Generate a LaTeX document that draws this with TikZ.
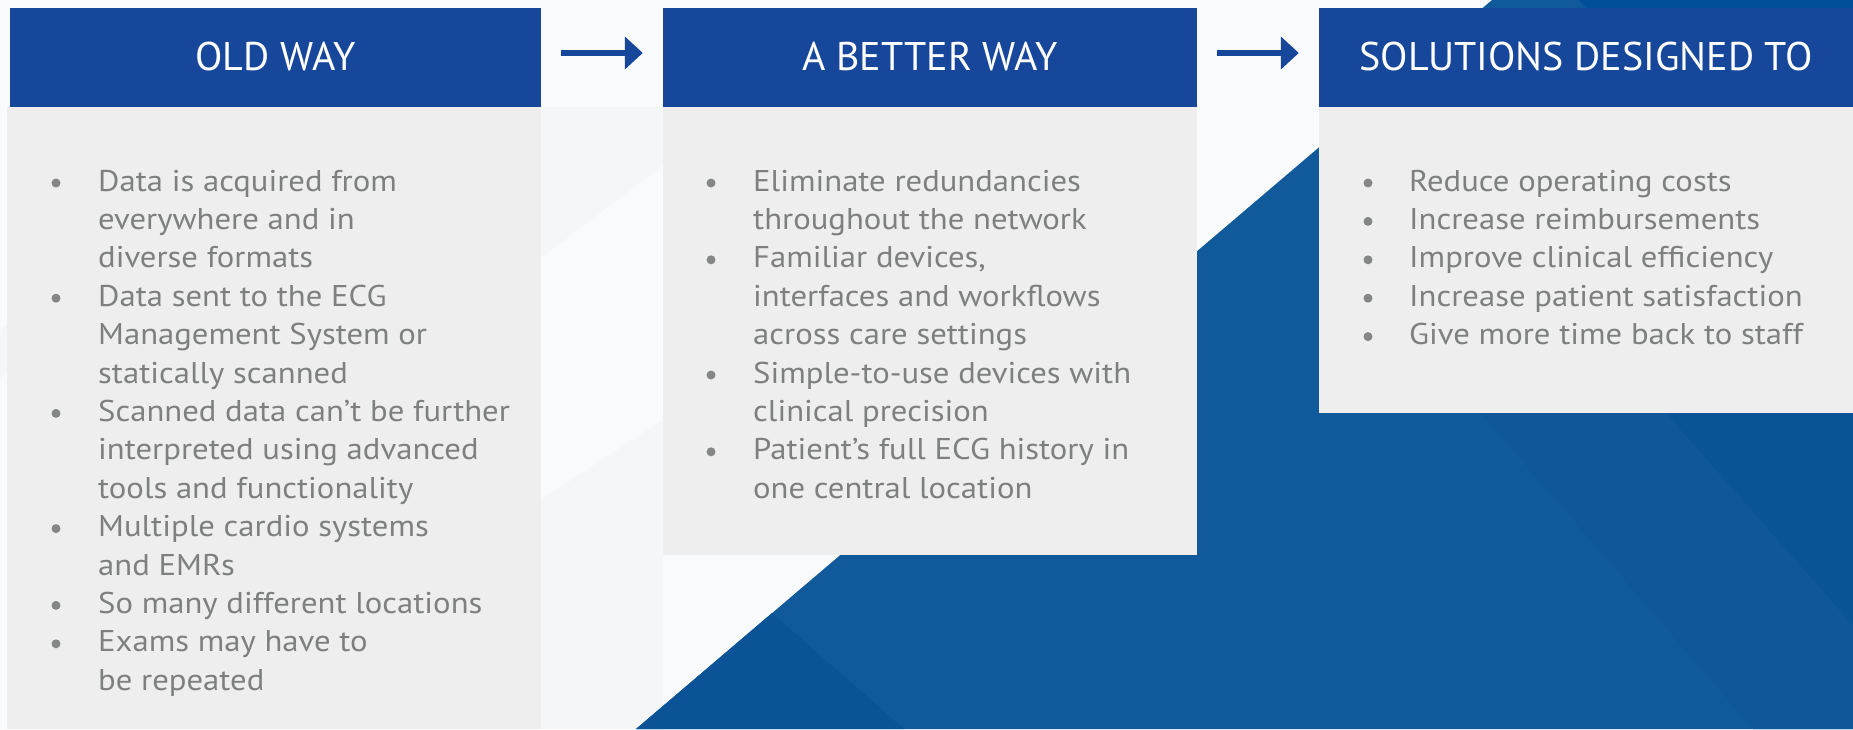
\documentclass[tikz,border=0pt]{standalone}
\usepackage{fontspec}
\setmainfont{PT Sans}
\newfontfamily\hdrfont{PT Sans}
\newfontfamily\bodyfont[FakeStretch=1.09]{PT Sans}
\usetikzlibrary{arrows.meta}
\definecolor{hdrblue}{HTML}{17479A}
\definecolor{bodygray}{HTML}{EEEEEE}
\definecolor{txtgray}{HTML}{7E8080}
\definecolor{dotgray}{HTML}{858787}
\definecolor{bgwhite}{HTML}{F9FAFC}
\definecolor{bglight}{HTML}{F4F6F8}
\definecolor{bgblue}{HTML}{10599B}
\definecolor{bgbluemid}{HTML}{0F5798}
\definecolor{bgbluedark}{HTML}{0A5396}
\definecolor{bgbluedeep}{HTML}{004F98}
\begin{document}
\begin{tikzpicture}[x=1pt,y=-1pt,
  hdrbox/.style={fill=hdrblue, draw=none, inner sep=0pt},
  bodybox/.style={fill=bodygray, draw=none, inner sep=0pt},
  hdrtxt/.style={anchor=base, inner sep=0pt, text=white, font=\hdrfont\fontsize{40}{40}\selectfont},
  txt/.style={anchor=base west, inner sep=0pt, text=txtgray, font=\bodyfont\fontsize{30}{38}\selectfont},
  dot/.style={circle, fill=dotgray, draw=none, inner sep=0pt, minimum size=9pt},
  arr/.style={draw=hdrblue, line width=6pt, -{Triangle[length=18pt,width=32pt]}, shorten <=20pt, shorten >=20pt}]
% canvas
\fill[bgwhite] (0,0) rectangle (1853,729);
\useasboundingbox (0,0) rectangle (1853,729);
% faint background facets
\fill[bglight] (541,107) -- (663,107) -- (663,165) -- (541,258) -- cycle;
\fill[bglight] (541,500) -- (663,420) -- (663,729) -- (541,729) -- cycle;
\fill[bglight] (0,330) -- (7,325) -- (7,372) -- (0,378) -- cycle;
% blue area
\fill[bgblue] (636,729) -- (1492,0) -- (1853,0) -- (1853,729) -- cycle;
\fill[bgbluedark] (636,729) -- (772,613) -- (904,729) -- cycle;
\fill[bgbluemid] (1481,413) -- (1666,413) -- (1853,625) -- (1853,729) -- (1753,729) -- cycle;
\fill[bgbluedark] (1396,107) -- (1853,107) -- (1853,625) -- cycle;
\fill[bgbluedeep] (1579,0) -- (1853,0) -- (1853,8) -- (1586,8) -- cycle;
% boxes
\node[bodybox, minimum width=534pt, minimum height=622pt] (b1) at (274,418) {};
\node[bodybox, minimum width=534pt, minimum height=448pt] (b2) at (930,331) {};
\node[bodybox, minimum width=534pt, minimum height=306pt] (b3) at (1586,260) {};
\node[hdrbox, minimum width=531pt, minimum height=99pt] (h1) at (275.5,57.5) {};
\node[hdrbox, minimum width=534pt, minimum height=99pt] (h2) at (930,57.5) {};
\node[hdrbox, minimum width=534pt, minimum height=99pt] (h3) at (1586,57.5) {};
\node[hdrtxt] (h1t) at (275.5,70) {OLD WAY};
\node[hdrtxt] (h2t) at (930,70) {A BETTER WAY};
\node[hdrtxt] (h3t) at (1586,70) {SOLUTIONS DESIGNED TO};
% arrows
\draw[arr] ([yshift=4.5pt]h1.east) -- ([yshift=4.5pt]h2.west);
\draw[arr] ([yshift=4.5pt]h2.east) -- ([yshift=4.5pt]h3.west);
% box 1 text
\foreach \t [count=\i from 0] in {Data is acquired from, everywhere and in, diverse formats,
  Data sent to the ECG, Management System or, statically scanned,
  Scanned data can’t be further, interpreted using advanced, tools and functionality,
  Multiple cardio systems, and EMRs, So many different locations,
  Exams may have to, be repeated}
  \node[txt] (o\i) at (98,191+38.4*\i) {\t};
\foreach \i in {0,3,6,9,11,12}
  \node[dot] (od\i) at (56,183+38.4*\i) {};
% box 2 text
\foreach \t [count=\i from 0] in {Eliminate redundancies, throughout the network, {Familiar devices,},
  interfaces and workflows, across care settings, Simple-to-use devices with,
  clinical precision, Patient’s full ECG history in, one central location}
  \node[txt] (w\i) at (753,191+38.4*\i) {\t};
\foreach \i in {0,2,5,7}
  \node[dot] (wd\i) at (711,183+38.4*\i) {};
% box 3 text
\foreach \t [count=\i from 0] in {Reduce operating costs, Increase reimbursements,
  Improve clinical efficiency, Increase patient satisfaction, Give more time back to staff}
  {\node[txt] (s\i) at (1409,191+38.4*\i) {\t};
   \node[dot] (sd\i) at (1368,183+38.4*\i) {};}
\end{tikzpicture}
\end{document}
